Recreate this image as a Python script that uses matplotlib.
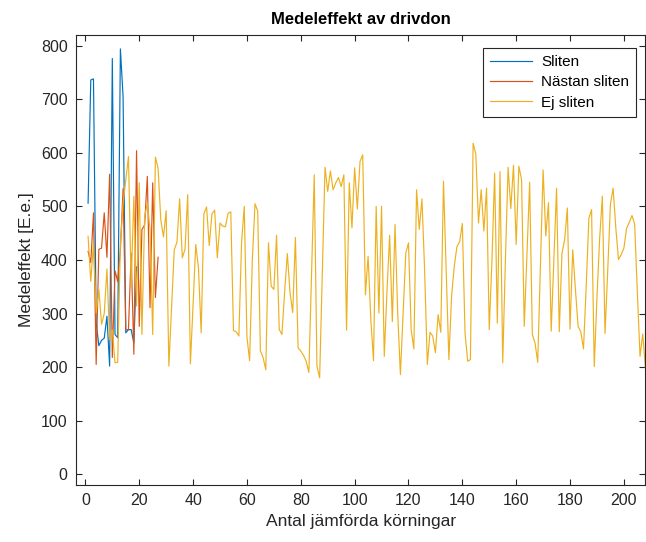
import matplotlib
matplotlib.use('Agg')
import matplotlib.pyplot as plt
import numpy as np

plt.rcParams['font.family'] = ['Liberation Sans', 'DejaVu Sans']

# Medeleffekt per jämförd körning
sliten = [506, 736, 738, 283, 240, 250, 254, 295, 202, 776,
          261, 255, 794, 705, 264, 270, 270, 245, 387]

nastan_sliten = [416, 395, 488, 205, 420, 422, 488, 405, 560, 218,
                 380, 360, 420, 533, 270, 270, 413, 224, 604, 276,
                 457, 465, 556, 311, 544, 330, 405]

ej_sliten = [444, 360, 432, 301, 345, 280, 300, 383, 252, 270,
             208, 209, 429, 506, 550, 593, 351, 519, 314, 544,
             261, 481, 506, 457, 261, 592, 571, 475, 443, 492,
             202, 310, 419, 433, 514, 404, 420, 522, 206, 317,
             429, 385, 264, 486, 499, 427, 486, 493, 404, 469,
             463, 462, 487, 490, 268, 266, 258, 432, 500, 256,
             212, 400, 505, 491, 230, 218, 195, 432, 351, 345,
             446, 270, 261, 340, 412, 339, 302, 442, 236, 230,
             222, 211, 190, 375, 559, 202, 180, 376, 573, 528,
             566, 531, 544, 554, 537, 559, 269, 544, 460, 572,
             495, 584, 596, 335, 407, 290, 212, 500, 301, 500,
             220, 340, 446, 285, 466, 300, 186, 300, 413, 432,
             270, 234, 531, 457, 514, 380, 205, 265, 258, 227,
             298, 265, 547, 380, 214, 332, 388, 425, 434, 468,
             264, 211, 214, 618, 598, 469, 531, 454, 534, 270,
             400, 562, 282, 565, 208, 400, 573, 496, 577, 429,
             575, 550, 276, 410, 545, 261, 245, 209, 390, 568,
             445, 507, 267, 400, 534, 266, 412, 438, 497, 271,
             419, 345, 276, 266, 234, 350, 478, 494, 201, 330,
             440, 519, 263, 380, 504, 534, 460, 401, 410, 422,
             459, 470, 483, 467, 340, 220, 262, 198]

labels = ['Sliten', 'Nästan sliten', 'Ej sliten']
colors = ['#0072BD', '#D95319', '#EDB120']

fig = plt.figure(figsize=(6.46, 5.42), dpi=100)
ax = fig.add_axes([0.1176, 0.1052, 0.8815, 0.8303])

for series, label, color in zip([sliten, nastan_sliten, ej_sliten], labels, colors):
    ax.plot(np.arange(1, len(series) + 1), series, color=color, linewidth=0.85, label=label)

ax.set_xlim(-3.5, 208)
ax.set_ylim(-20, 820)
ax.set_xticks(np.arange(0, 201, 20))
ax.set_yticks(np.arange(0, 801, 100))

ax.tick_params(direction='in', top=True, right=True, length=4, width=0.8,
               labelsize=11.5, colors='#262626', pad=6)
for spine in ax.spines.values():
    spine.set_color('#262626')
    spine.set_linewidth(0.8)

ax.set_title('Medeleffekt av drivdon', fontsize=12, fontweight='bold', pad=8)
ax.set_xlabel('Antal jämförda körningar', fontsize=12.5, color='#262626', labelpad=4)
ax.set_ylabel('Medeleffekt [E.e.]', fontsize=12.5, color='#262626', labelpad=5)

leg = ax.legend(loc='upper right', bbox_to_anchor=(0.983, 0.971), borderaxespad=0,
                fontsize=11, fancybox=False, framealpha=1, edgecolor='#262626',
                handlelength=2.8, handletextpad=0.55, borderpad=0.45, labelspacing=0.42)
leg.get_frame().set_linewidth(0.8)

plt.savefig('out.png', dpi=100)
plt.close()
